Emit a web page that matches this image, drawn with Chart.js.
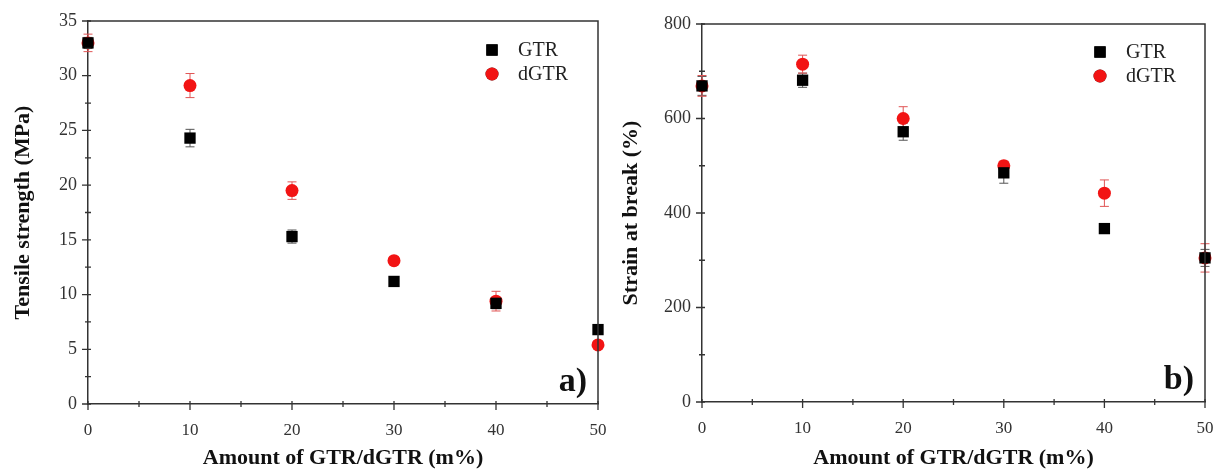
<!DOCTYPE html>
<html>
<head>
<meta charset="utf-8">
<script src="https://cdn.jsdelivr.net/npm/chart.js@4.4.1/dist/chart.umd.min.js"></script>
<style>
  body { margin: 0; background: #fff; }
  #wrap { position: relative; width: 1215px; height: 470px; overflow: hidden; }
  canvas { position: absolute; top: 0; }
</style>
</head>
<body>
<div id="wrap">
  <canvas id="chartA" width="607" height="470" style="left:0"></canvas>
  <canvas id="chartB" width="608" height="470" style="left:607px"></canvas>
</div>
<script>
// data
var amounts = [0, 10, 20, 30, 40, 50];

var tensileGTR = [33.0, 24.3, 15.3, 11.2, 9.2, 6.8];
var tensileGTRErr = [0.5, 0.8, 0.6, 0.3, 0.5, 0.3];
var tensileDGTR = [33.0, 29.1, 19.5, 13.1, 9.4, 5.4];
var tensileDGTRErr = [0.8, 1.1, 0.8, 0.3, 0.9, 0.3];

var strainGTR = [669, 681, 572, 485, 367, 305];
var strainGTRErr = [20, 15, 18, 22, 10, 18];
var strainDGTR = [669, 715, 600, 500, 442, 305];
var strainDGTRErr = [22, 19, 25, 10, 28, 30];

var xTicks = [0, 10, 20, 30, 40, 50];
var tensileTicks = [0, 5, 10, 15, 20, 25, 30, 35];
var strainTicks = [0, 200, 400, 600, 800];

var serif = '"Liberation Serif", "Times New Roman", serif';
var axisColor = '#333';
var red = '#f21414';

function points(ys, errs) {
    return amounts.map(function (x, i) { return { x: x, y: ys[i], err: errs[i] }; });
}

// error bars, frame, minor ticks, legend and panel letter
var decorations = {
    id: 'decorations',
    beforeDatasetsDraw: function (chart) {
        var ctx = chart.ctx;
        var ys = chart.scales.y;
        chart.data.datasets.forEach(function (ds) {
            ctx.save();
            ctx.strokeStyle = ds.errColor;
            ctx.lineWidth = 1;
            ds.data.forEach(function (p) {
                var x = chart.scales.x.getPixelForValue(p.x);
                var top = ys.getPixelForValue(p.y + p.err);
                var bot = ys.getPixelForValue(p.y - p.err);
                ctx.beginPath();
                ctx.moveTo(x, top); ctx.lineTo(x, bot);
                ctx.moveTo(x - 4.5, top); ctx.lineTo(x + 4.5, top);
                ctx.moveTo(x - 4.5, bot); ctx.lineTo(x + 4.5, bot);
                ctx.stroke();
            });
            ctx.restore();
        });
    },
    afterDraw: function (chart, args, opts) {
        var ctx = chart.ctx;
        var a = chart.chartArea;
        var xs = chart.scales.x, ys = chart.scales.y;
        ctx.save();
        ctx.strokeStyle = axisColor;
        ctx.lineWidth = 1.5;
        ctx.beginPath();
        ctx.moveTo(a.left, a.top); ctx.lineTo(a.right, a.top); ctx.lineTo(a.right, a.bottom);
        ctx.stroke();

        // tick marks crossing the axes
        ctx.lineWidth = 1.3;
        ctx.beginPath();
        for (var v = 0; v <= xs.max + 0.001; v += opts.xMinor) {
            var px = xs.getPixelForValue(v);
            var major = Math.abs(v % (opts.xMinor * 2)) < 0.001;
            ctx.moveTo(px, a.bottom - 3);
            ctx.lineTo(px, a.bottom + (major ? 6 : 3));
        }
        for (var w = 0; w <= ys.max + 0.001; w += opts.yMinor) {
            var py = ys.getPixelForValue(w);
            var majorY = Math.abs(w % (opts.yMinor * 2)) < 0.001;
            ctx.moveTo(a.left + 3, py);
            ctx.lineTo(a.left - (majorY ? 6 : 3), py);
        }
        ctx.stroke();

        // legend
        var lx = a.right - opts.legendRight;
        chart.data.datasets.forEach(function (ds, i) {
            var ly = a.top + opts.legendTop + i * 24;
            Chart.helpers.drawPoint(ctx, {
                pointStyle: ds.pointStyle, radius: ds.pointRadius, rotation: 0, borderWidth: 0
            }, lx, ly);
            ctx.fillStyle = ds.backgroundColor;
            ctx.fill();
            ctx.fillStyle = '#222';
            ctx.font = '20px ' + serif;
            ctx.textBaseline = 'middle';
            ctx.textAlign = 'left';
            ctx.fillText(ds.label, lx + 26, ly + 1);
        });

        // panel letter
        ctx.fillStyle = '#111';
        ctx.font = 'bold 34px ' + serif;
        ctx.textAlign = 'right';
        ctx.textBaseline = 'alphabetic';
        ctx.fillText(opts.letter, a.right - 11, a.bottom - 13);
        ctx.restore();
    }
};

function makeChart(id, cfg) {
    var ctx = document.getElementById(id).getContext('2d');
    return new Chart(ctx, {
        type: 'scatter',
        data: {
            datasets: [{
                label: 'GTR',
                data: points(cfg.gtr, cfg.gtrErr),
                pointStyle: 'rect',
                pointRadius: 8,
                pointHoverRadius: 8,
                backgroundColor: '#000',
                borderWidth: 0,
                errColor: '#555',
                clip: false
            }, {
                label: 'dGTR',
                data: points(cfg.dgtr, cfg.dgtrErr),
                pointStyle: 'circle',
                pointRadius: 6.5,
                pointHoverRadius: 6.5,
                backgroundColor: red,
                borderWidth: 0,
                errColor: '#e05555',
                clip: false
            }]
        },
        options: {
            responsive: false,
            animation: false,
            layout: { padding: { left: 0, top: cfg.top, right: cfg.right, bottom: 0 } },
            plugins: {
                legend: { display: false },
                tooltip: { enabled: false },
                decorations: cfg.deco
            },
            scales: {
                x: {
                    type: 'linear',
                    min: 0, max: 50,
                    afterBuildTicks: function (s) { s.ticks = xTicks.map(function (v) { return { value: v }; }); },
                    afterFit: function (s) { s.height = cfg.xHeight; s.paddingLeft = 0; s.paddingRight = 0; },
                    grid: { drawOnChartArea: false, drawTicks: false },
                    border: { display: true, color: axisColor, width: 1.5 },
                    ticks: { color: '#333', padding: 16, maxRotation: 0, font: { family: serif, size: 17 } },
                    title: {
                        display: true,
                        text: 'Amount of GTR/dGTR (m%)',
                        color: '#111',
                        padding: { top: 0, bottom: -2 },
                        font: { family: serif, size: 22, weight: 'bold' }
                    }
                },
                y: {
                    type: 'linear',
                    min: 0, max: cfg.yMax,
                    afterBuildTicks: function (s) { s.ticks = cfg.yTicks.map(function (v) { return { value: v }; }); },
                    afterFit: function (s) { s.width = cfg.yWidth; s.paddingTop = 0; s.paddingBottom = 0; },
                    grid: { drawOnChartArea: false, drawTicks: false },
                    border: { display: true, color: axisColor, width: 1.5 },
                    ticks: { color: '#333', padding: 11, font: { family: serif, size: 18 } },
                    title: {
                        display: true,
                        text: cfg.yTitle,
                        color: '#111',
                        padding: { top: cfg.yTitlePad, bottom: 0 },
                        font: { family: serif, size: 22, weight: 'bold' }
                    }
                }
            }
        },
        plugins: [decorations]
    });
}

makeChart('chartA', {
    gtr: tensileGTR, gtrErr: tensileGTRErr,
    dgtr: tensileDGTR, dgtrErr: tensileDGTRErr,
    yMax: 35, yTicks: tensileTicks,
    yTitle: 'Tensile strength (MPa)',
    top: 21, right: 9, yWidth: 88, xHeight: 66, yTitlePad: 10,
    deco: { xMinor: 5, yMinor: 2.5, letter: 'a)', legendRight: 106, legendTop: 29 }
});

makeChart('chartB', {
    gtr: strainGTR, gtrErr: strainGTRErr,
    dgtr: strainDGTR, dgtrErr: strainDGTRErr,
    yMax: 800, yTicks: strainTicks,
    yTitle: 'Strain at break (%)',
    top: 24, right: 10, yWidth: 95, xHeight: 68, yTitlePad: 11,
    deco: { xMinor: 5, yMinor: 100, letter: 'b)', legendRight: 105, legendTop: 28 }
});
</script>
</body>
</html>
